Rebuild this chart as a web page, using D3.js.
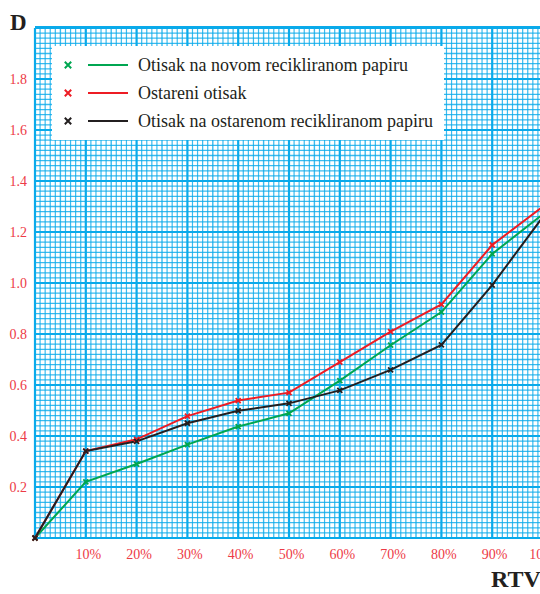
<!DOCTYPE html>
<html>
<head>
<meta charset="utf-8">
<script src="https://cdn.jsdelivr.net/npm/d3@7"></script>
<style>
html,body{margin:0;padding:0;background:#fff;}
svg{display:block;}
text{font-family:"Liberation Serif","Times New Roman",Times,"DejaVu Serif",serif;}
</style>
</head>
<body>
<svg id="chart" width="540" height="594"></svg>
<script>
// ---- data ----
const xValues = [0, 10, 20, 30, 40, 50, 60, 70, 80, 90, 100];
const seriesNames = [
  "Otisak na novom recikliranom papiru",
  "Ostareni otisak",
  "Otisak na ostarenom recikliranom papiru"
];
const greenValues = [0, 0.22, 0.29, 0.366, 0.437, 0.489, 0.617, 0.756, 0.886, 1.114, 1.27];
const redValues   = [0, 0.341, 0.387, 0.478, 0.539, 0.570, 0.690, 0.809, 0.916, 1.149, 1.30];
const blackValues = [0, 0.341, 0.379, 0.450, 0.499, 0.528, 0.579, 0.659, 0.757, 0.992, 1.26];
const xTickLabels = ["10%", "20%", "30%", "40%", "50%", "60%", "70%", "80%", "90%", "100%"];
const yTickValues = [0.2, 0.4, 0.6, 0.8, 1.0, 1.2, 1.4, 1.6, 1.8];
const yTitle = "D";
const xTitle = "RTV";

const colors = ["#00a651", "#ed1c24", "#231f20"];
const series = [greenValues, redValues, blackValues];

const svg = d3.select("#chart");
const x = d3.scaleLinear().domain([0, 100]).range([35, 543]);
const y = d3.scaleLinear().domain([0, 2]).range([538, 28]);

const grid = svg.append("g");
const gridColor = "#0aaaea";
const sw = d => d % 10 === 0 ? 2.2 : (d % 5 === 0 ? 1.4 : 1.2);
grid.selectAll("line.vx").data(d3.range(0, 101, 1)).join("line")
  .attr("x1", d => x(d)).attr("x2", d => x(d))
  .attr("y1", y(0)).attr("y2", y(2))
  .attr("stroke", gridColor).attr("stroke-width", sw)
  .attr("stroke-opacity", d => d % 10 === 0 ? 1 : 0.8);
grid.selectAll("line.hy").data(d3.range(0, 101, 1)).join("line")
  .attr("y1", d => y(d * 0.02)).attr("y2", d => y(d * 0.02))
  .attr("x1", x(0)).attr("x2", x(100))
  .attr("stroke", gridColor).attr("stroke-width", sw)
  .attr("stroke-opacity", d => d % 10 === 0 ? 1 : 0.8);
grid.append("line").attr("x1", x(0)).attr("x2", x(100)).attr("y1", y(2) - 1).attr("y2", y(2) - 1)
  .attr("stroke", gridColor).attr("stroke-width", 2);

// lines
const line = d3.line().x((d, i) => x(xValues[i])).y(d => y(d));
series.forEach((vals, k) => {
  svg.append("path").datum(vals).attr("d", line)
    .attr("fill", "none").attr("stroke", colors[k]).attr("stroke-width", 2);
});
// markers
series.forEach((vals, k) => {
  svg.append("g").selectAll("path").data(vals).join("path")
    .attr("d", (d, i) => {
      const cx = x(xValues[i]), cy = y(d), s = 2.5;
      return `M${cx - s},${cy - s}L${cx + s},${cy + s}M${cx - s},${cy + s}L${cx + s},${cy - s}`;
    })
    .attr("stroke", colors[k]).attr("stroke-width", 1.8);
});

// legend
const lg = svg.append("g");
lg.append("rect").attr("x", 52).attr("y", 46).attr("width", 392).attr("height", 94).attr("fill", "#fff");
const rowY = [65, 93, 121];
seriesNames.forEach((name, k) => {
  const cy = rowY[k], cx = 68, s = 3.2;
  lg.append("path").attr("d", `M${cx - s},${cy - s}L${cx + s},${cy + s}M${cx - s},${cy + s}L${cx + s},${cy - s}`)
    .attr("stroke", colors[k]).attr("stroke-width", 2);
  lg.append("line").attr("x1", 88).attr("x2", 128).attr("y1", cy).attr("y2", cy)
    .attr("stroke", colors[k]).attr("stroke-width", 2);
  lg.append("text").attr("x", 138).attr("y", cy + 6).text(name)
    .attr("font-size", 18).attr("fill", "#231f20");
});

// y tick labels
svg.append("g").selectAll("text").data(yTickValues).join("text")
  .attr("x", 27).attr("y", d => y(d) + 5).attr("text-anchor", "end")
  .attr("font-size", 14).attr("fill", "#ed3a46")
  .text(d => d.toFixed(1));
// x tick labels
svg.append("g").selectAll("text").data(xTickLabels).join("text")
  .attr("x", (d, i) => x(xValues[i + 1]) + 2.5).attr("y", 559).attr("text-anchor", "middle")
  .attr("font-size", 14).attr("fill", "#ed3a46")
  .text(d => d);

// axis titles
svg.append("text").attr("x", 10).attr("y", 30).text(yTitle)
  .attr("font-weight", "bold").attr("font-size", 23).attr("fill", "#231f20");
svg.append("text").attr("x", 491).attr("y", 587).text(xTitle)
  .attr("font-weight", "bold").attr("font-size", 24).attr("fill", "#231f20");
</script>
</body>
</html>
